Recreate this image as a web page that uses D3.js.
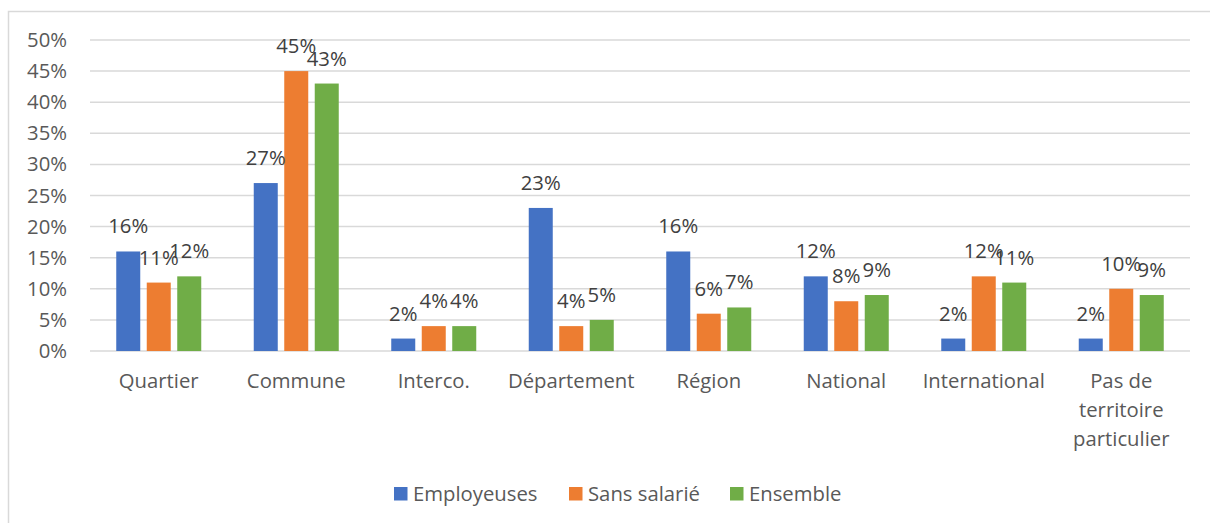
<!DOCTYPE html>
<html>
<head>
<meta charset="utf-8">
<script src="https://cdn.jsdelivr.net/npm/d3@7"></script>
<style>
  body { margin: 0; background: #fff; }
  svg { display: block; font-family: "Open Sans", "Noto Sans", sans-serif; }
  .tick-label { fill: #595959; font-size: 20.3px; }
  .cat-label { fill: #595959; font-size: 20.3px; }
  .bar-label { fill: #404040; font-size: 20.3px; }
  .legend-label { fill: #595959; font-size: 20.3px; }
</style>
</head>
<body>
<svg id="chart"></svg>
<script>
const categories = ['Quartier', 'Commune', 'Interco.', 'Département', 'Région', 'National', 'International', 'Pas de territoire particulier'];
const seriesNames = ['Employeuses', 'Sans salarié', 'Ensemble'];
const employeuses = [16, 27, 2, 23, 16, 12, 2, 2];
const sansSalarie = [11, 45, 4, 4, 6, 8, 12, 10];
const ensemble = [12, 43, 4, 5, 7, 9, 11, 9];
const yTicks = [0, 5, 10, 15, 20, 25, 30, 35, 40, 45, 50];
const colors = ['#4472C4', '#ED7D31', '#70AD47'];

// category labels split into lines like the original
const catLines = {
  'Pas de territoire particulier': ['Pas de', 'territoire', 'particulier']
};

const width = 1210, height = 523;
const margin = { top: 40, right: 20, bottom: 172, left: 90 };

const svg = d3.select('#chart')
  .attr('width', width)
  .attr('height', height);

// chart border (only left and top visible in the crop)
svg.append('path')
  .attr('d', `M8.5,${height} V11.5 H${width}`)
  .attr('fill', 'none')
  .attr('stroke', '#d9d9d9')
  .attr('stroke-width', 1.5);

const innerW = width - margin.left - margin.right;
const innerH = height - margin.top - margin.bottom;

const chart = svg.append('g')
  .attr('transform', `translate(${margin.left},${margin.top})`);

const x0 = d3.scaleBand().domain(categories).range([0, innerW]).padding(0);
const groupW = 85;
const x1 = d3.scaleBand().domain(seriesNames)
  .range([x0.bandwidth() / 2 - groupW / 2, x0.bandwidth() / 2 + groupW / 2])
  .paddingInner(0.213).paddingOuter(0);
const y = d3.scaleLinear().domain([0, 50]).range([innerH, 0]);

// gridlines
chart.append('g')
  .selectAll('line')
  .data(yTicks)
  .join('line')
    .attr('x1', 0)
    .attr('x2', innerW)
    .attr('y1', d => y(d))
    .attr('y2', d => y(d))
    .attr('stroke', '#d9d9d9')
    .attr('stroke-width', 1.5);

// y axis labels
const yAxis = d3.axisLeft(y).tickValues(yTicks).tickFormat(d => d + '%').tickSize(0).tickPadding(23);
chart.append('g')
  .call(yAxis)
  .call(g => g.select('.domain').remove())
  .call(g => g.attr('font-size', null).attr('font-family', null))
  .call(g => g.selectAll('text').attr('class', 'tick-label').attr('fill', null));

const table = categories.map((c, i) => ({
  cat: c,
  values: [employeuses[i], sansSalarie[i], ensemble[i]].map((v, j) => ({ key: seriesNames[j], value: v, color: colors[j] }))
}));

const groups = chart.selectAll('.group')
  .data(table)
  .join('g')
    .attr('class', 'group')
    .attr('transform', d => `translate(${x0(d.cat)},0)`);

groups.selectAll('rect')
  .data(d => d.values)
  .join('rect')
    .attr('x', d => x1(d.key))
    .attr('width', x1.bandwidth())
    .attr('y', d => y(d.value))
    .attr('height', d => innerH - y(d.value))
    .attr('fill', d => d.color);

groups.selectAll('.bar-label')
  .data(d => d.values)
  .join('text')
    .attr('class', 'bar-label')
    .attr('x', d => x1(d.key) + x1.bandwidth() / 2)
    .attr('y', d => y(d.value) - 18)
    .attr('text-anchor', 'middle')
    .text(d => d.value + '%');

// category labels
const cats = chart.append('g')
  .selectAll('text')
  .data(categories)
  .join('text')
    .attr('class', 'cat-label')
    .attr('text-anchor', 'middle')
    .attr('transform', d => `translate(${x0(d) + x0.bandwidth() / 2},${innerH + 37})`);

cats.selectAll('tspan')
  .data(d => catLines[d] || [d])
  .join('tspan')
    .attr('x', 0)
    .attr('y', (d, i) => i * 29)
    .text(d => d);

// legend
const legend = svg.append('g').attr('transform', 'translate(0,494)');
const legendX = [394, 569, 730];
const item = legend.selectAll('g')
  .data(seriesNames)
  .join('g')
    .attr('transform', (d, i) => `translate(${legendX[i]},0)`);
item.append('rect')
  .attr('x', 0).attr('y', -7)
  .attr('width', 13.5).attr('height', 13.5)
  .attr('fill', (d, i) => colors[i]);
item.append('text')
  .attr('class', 'legend-label')
  .attr('x', 19)
  .attr('dy', '0.35em')
  .text(d => d);
</script>
</body>
</html>
